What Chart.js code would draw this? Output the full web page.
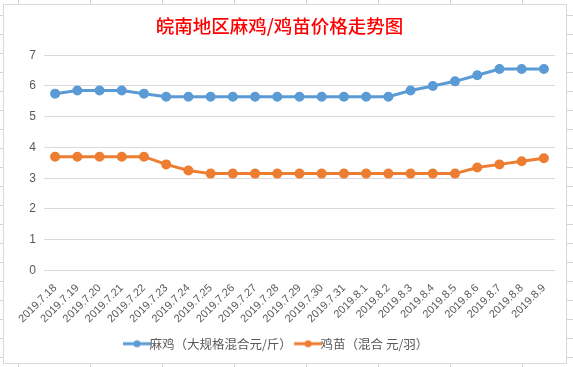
<!DOCTYPE html>
<html>
<head>
<meta charset="utf-8">
<script src="https://cdn.jsdelivr.net/npm/chart.js@4/dist/chart.umd.min.js"></script>
<style>
  html, body { margin: 0; padding: 0; }
  body {
    width: 573px; height: 367px; overflow: hidden; position: relative;
    background-color: #fff;
    background-image:
      linear-gradient(to right, #d4d4d4 1px, transparent 1px),
      linear-gradient(to bottom, #d4d4d4 1px, transparent 1px);
    background-size: 72px 19px;
    background-position: 18px 15px;
  }
  .box {
    position: absolute; left: 3px; top: 4px; width: 562px; height: 358px;
    border: 1px solid #d9d9d9; background: #fff;
  }
</style>
</head>
<body>
<div class="box"><canvas id="lineChart" width="562" height="358"></canvas></div>
<script>
// categories + values
const dates = ["2019.7.18", "2019.7.19", "2019.7.20", "2019.7.21", "2019.7.22", "2019.7.23",
  "2019.7.24", "2019.7.25", "2019.7.26", "2019.7.27", "2019.7.28", "2019.7.29", "2019.7.30",
  "2019.7.31", "2019.8.1", "2019.8.2", "2019.8.3", "2019.8.4", "2019.8.5", "2019.8.6",
  "2019.8.7", "2019.8.8", "2019.8.9"];
const maji = [5.75, 5.85, 5.85, 5.85, 5.75, 5.65, 5.65, 5.65, 5.65, 5.65, 5.65, 5.65, 5.65,
  5.65, 5.65, 5.65, 5.85, 6.0, 6.15, 6.35, 6.55, 6.55, 6.55];
const jimiao = [3.7, 3.7, 3.7, 3.7, 3.7, 3.45, 3.25, 3.15, 3.15, 3.15, 3.15, 3.15, 3.15,
  3.15, 3.15, 3.15, 3.15, 3.15, 3.15, 3.35, 3.45, 3.55, 3.65];
const yTicks = [0, 1, 2, 3, 4, 5, 6, 7];

const blue = "#5b9bd5";
const orange = "#ed7d31";
const grey = "#595959";

// legend marker: line with a dot, like excel
function marker(color) {
  let c = document.createElement("canvas");
  c.width = 30; c.height = 10;
  let g = c.getContext("2d");
  g.strokeStyle = color; g.lineWidth = 3;
  g.beginPath(); g.moveTo(1, 5); g.lineTo(29, 5); g.stroke();
  g.fillStyle = color;
  g.beginPath(); g.arc(15, 5, 3.5, 0, Math.PI * 2); g.fill();
  return c;
}

let ctx = document.getElementById("lineChart").getContext("2d");
new Chart(ctx, {
  type: "line",
  data: {
    labels: dates,
    datasets: [{
      label: "麻鸡（大规格混合元/斤）",
      data: maji,
      borderColor: blue,
      backgroundColor: blue,
      borderWidth: 3,
      pointRadius: 3.5
    }, {
      label: "鸡苗（混合 元/羽）",
      data: jimiao,
      borderColor: orange,
      backgroundColor: orange,
      borderWidth: 3,
      pointRadius: 3.5
    }]
  },
  options: {
    responsive: false,
    animation: false,
    layout: { padding: { left: 0, right: 11, top: 0, bottom: 3 } },
    elements: { point: { pointStyle: "circle" }, line: { tension: 0 } },
    plugins: {
      title: {
        display: true,
        text: "皖南地区麻鸡/鸡苗价格走势图",
        color: "#ff0000",
        font: { family: "'Noto Sans CJK SC'", size: 18.5, weight: "500" },
        padding: { top: 10, bottom: 18 }
      },
      legend: {
        position: "bottom",
        labels: {
          color: grey,
          font: { family: "'Noto Sans CJK SC'", size: 12.5 },
          usePointStyle: true,
          padding: 10,
          generateLabels: (chart) => chart.data.datasets.map((ds, i) => ({
            text: ds.label,
            fontColor: grey,
            pointStyle: marker(ds.borderColor),
            datasetIndex: i,
            lineWidth: 0,
            strokeStyle: "transparent"
          }))
        }
      },
      tooltip: { enabled: false }
    },
    scales: {
      x: {
        offset: true,
        grid: { display: false },
        border: { display: false },
        ticks: {
          color: grey,
          font: { family: "'Liberation Sans'", size: 11 },
          minRotation: 45,
          maxRotation: 45,
          autoSkip: false
        },
        afterFit: (scale) => { scale.height = 57; }
      },
      y: {
        min: 0,
        max: 7,
        afterBuildTicks: (scale) => { scale.ticks = yTicks.map(v => ({ value: v })); },
        grid: { color: "#d9d9d9", drawTicks: false },
        border: { display: false },
        ticks: {
          color: grey,
          padding: 8,
          font: { family: "'Liberation Sans'", size: 12 }
        },
        afterFit: (scale) => { scale.width = 40; }
      }
    }
  }
});
</script>
</body>
</html>
